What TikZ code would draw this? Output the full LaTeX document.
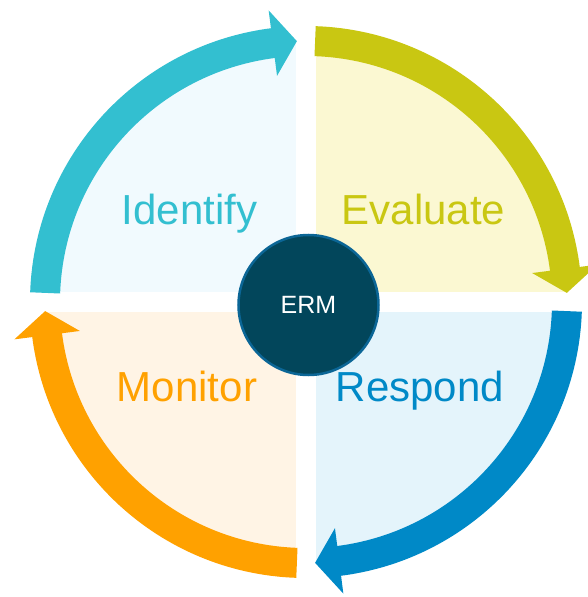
\documentclass[tikz,border=0pt]{standalone}
\usepackage{fontspec}
\setmainfont{Liberation Sans}
\usepackage{xcolor}
\definecolor{turquesa}{HTML}{33BFD0}
\definecolor{oliva}{HTML}{C9C712}
\definecolor{azul}{HTML}{0089C7}
\definecolor{naranja}{HTML}{FFA100}
\definecolor{fondoturquesa}{HTML}{F1FAFE}
\definecolor{fondooliva}{HTML}{FBF8D2}
\definecolor{fondoazul}{HTML}{E4F4FB}
\definecolor{fondonaranja}{HTML}{FFF4E5}
\definecolor{fondoerm}{HTML}{02465B}
\definecolor{bordeerm}{HTML}{0B6696}
\usetikzlibrary{arrows.meta}

\begin{document}
\begin{tikzpicture}[x=1pt,y=1pt,
    etapa/.style={line width=30pt},
    texto/.style={anchor=base, font=\fontsize{42}{50}\selectfont}]
            \useasboundingbox (-306,-295) rectangle (282,302);

            % Cuadrantes
            \fill[fondoturquesa] (-10,10) -- (92.2:261) arc[start angle=92.2, end angle=177.8, radius=261] -- cycle;
            \fill[fondooliva] (10,10) -- (2.2:261) arc[start angle=2.2, end angle=87.8, radius=261] -- cycle;
            \fill[fondoazul] (10,-10) -- (-87.8:261) arc[start angle=-87.8, end angle=-2.2, radius=261] -- cycle;
            \fill[fondonaranja] (-10,-10) -- (-177.8:261) arc[start angle=-177.8, end angle=-92.2, radius=261] -- cycle;

            % Flecha Identify
            \draw[etapa, turquesa] (178:261) arc[start angle=178, end angle=96.5, radius=261];
            \fill[turquesa] (97.3:228) -- (92:261) -- (97.3:294) -- cycle;

            % Flecha Evaluate
            \draw[etapa, oliva] (88:261) arc[start angle=88, end angle=6.5, radius=261];
            \fill[oliva] (7.3:228) -- (2:261) -- (7.3:294) -- cycle;

            % Flecha Respond
            \draw[etapa, azul] (-2:261) arc[start angle=-2, end angle=-83.5, radius=261];
            \fill[azul] (-82.7:228) -- (-88:261) -- (-82.7:294) -- cycle;

            % Flecha Monitor
            \draw[etapa, naranja] (-92:261) arc[start angle=-92, end angle=-173.5, radius=261];
            \fill[naranja] (-172.7:228) -- (-178:261) -- (-172.7:294) -- cycle;

            % Etiquetas
            \node[texto, turquesa] (identify) at (-116.5,77) {Identify};
            \node[texto, oliva] (evaluate) at (117.5,77) {Evaluate};
            \node[texto, azul] (respond) at (114,-99) {Respond};
            \node[texto, naranja] (monitor) at (-119,-99) {Monitor};

            % Centro
            \node[circle, draw=bordeerm, line width=2.5pt, fill=fondoerm, minimum size=140pt,
              inner sep=0pt, text=white, font=\fontsize{25}{30}\selectfont] (erm) at (2.5,-3) {ERM};
        \end{tikzpicture}
\end{document}
